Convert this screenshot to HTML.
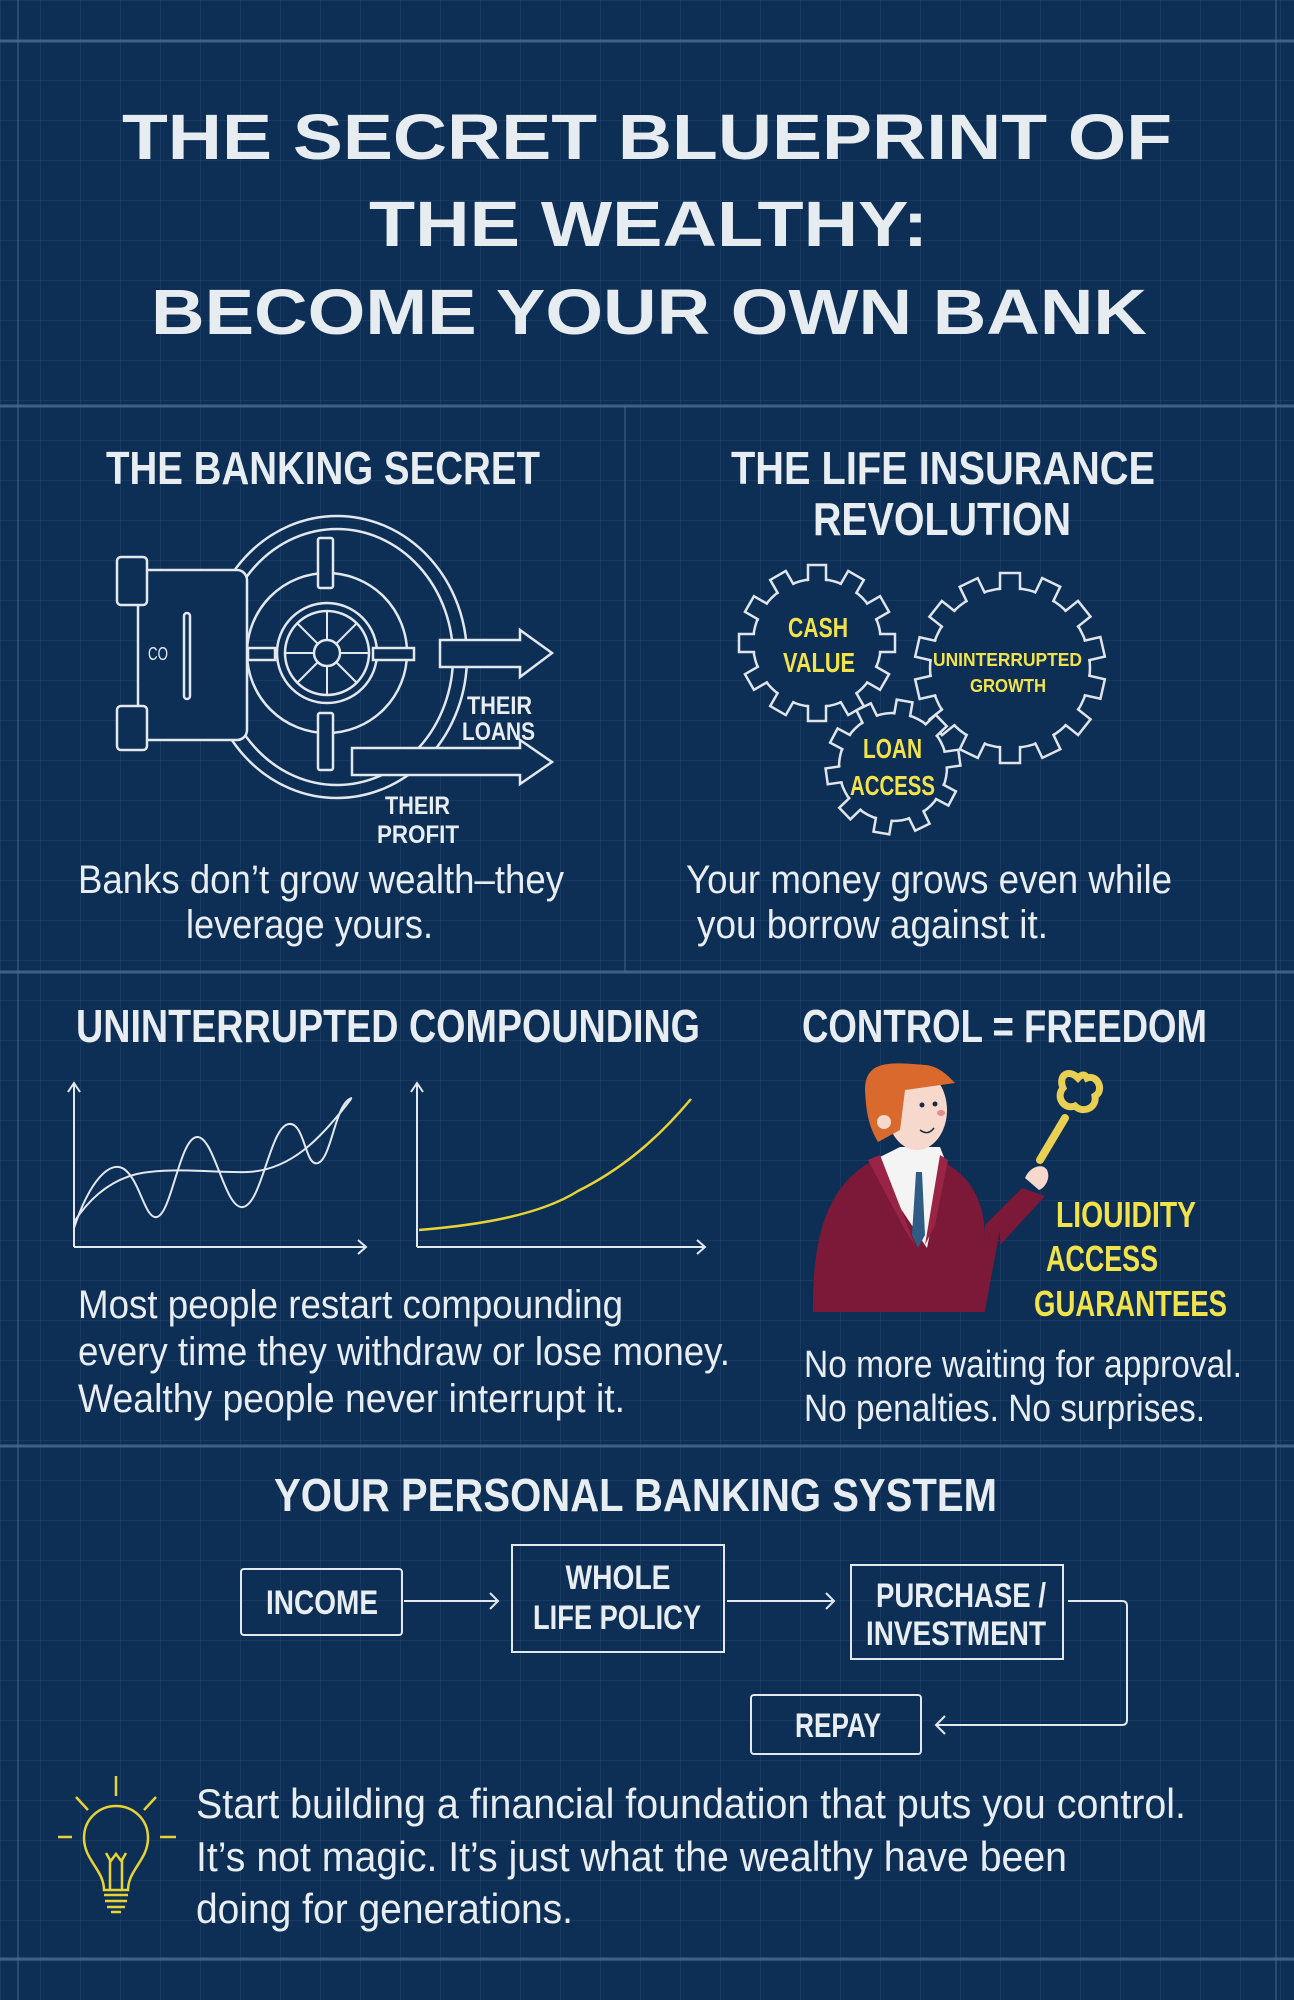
<!DOCTYPE html>
<html><head><meta charset="utf-8"><style>
html,body{margin:0;padding:0;}
body{width:1294px;height:2000px;overflow:hidden;background:#0d2f56;
background-image:
linear-gradient(rgba(120,160,200,0.10) 1px, transparent 1px),
linear-gradient(90deg, rgba(120,160,200,0.10) 1px, transparent 1px);
background-size:40px 40px;}
svg{position:absolute;left:0;top:0;}
.t{font-family:"Liberation Sans",sans-serif;font-weight:bold;fill:#e6ecf0;}
.h{font-family:"Liberation Sans Narrow","Liberation Sans",sans-serif;font-weight:bold;fill:#e8edf1;}
.b{font-family:"Liberation Sans Narrow","Liberation Sans",sans-serif;fill:#e8edf1;}
.y{font-family:"Liberation Sans Narrow","Liberation Sans",sans-serif;font-weight:bold;fill:#f3e34a;}
</style></head><body>
<svg width="1294" height="2000" viewBox="0 0 1294 2000">
<g stroke="#4c6d92" stroke-width="3" opacity="0.8">
<line x1="0" y1="41" x2="1294" y2="41"/>
<line x1="0" y1="406" x2="1294" y2="406"/>
<line x1="0" y1="972" x2="1294" y2="972"/>
<line x1="0" y1="1446" x2="1294" y2="1446"/>
<line x1="0" y1="1959" x2="1294" y2="1959"/>
</g>
<g stroke="#4c6d92" stroke-width="2" opacity="0.45">
<line x1="625" y1="406" x2="625" y2="972"/>
<line x1="18" y1="0" x2="18" y2="2000"/>
<line x1="1276" y1="0" x2="1276" y2="2000"/>
</g>
<text class="t" x="122" y="159" font-size="64" textLength="1050" lengthAdjust="spacingAndGlyphs">THE SECRET BLUEPRINT OF</text>
<text class="t" x="369" y="246" font-size="64" textLength="559" lengthAdjust="spacingAndGlyphs">THE WEALTHY:</text>
<text class="t" x="151" y="334" font-size="64" textLength="996" lengthAdjust="spacingAndGlyphs">BECOME YOUR OWN BANK</text>

<text class="h" x="106" y="484" font-size="46" textLength="434" lengthAdjust="spacingAndGlyphs">THE BANKING SECRET</text>
<text class="h" x="731" y="484" font-size="46" textLength="424" lengthAdjust="spacingAndGlyphs">THE LIFE INSURANCE</text>
<text class="h" x="813" y="535" font-size="46" textLength="258" lengthAdjust="spacingAndGlyphs">REVOLUTION</text>

<g stroke="#e2e8ee" stroke-width="2.5" fill="none">
<ellipse cx="337" cy="657" rx="130" ry="141"/>
<ellipse cx="337" cy="657" rx="116" ry="128"/>
<circle cx="327" cy="653" r="80"/>
<circle cx="327" cy="653" r="50" fill="#0d2f56"/>
<circle cx="327" cy="653" r="42"/>
<circle cx="327" cy="653" r="13"/>
<g stroke-width="2">
<line x1="340" y1="653" x2="369" y2="653"/><line x1="285" y1="653" x2="314" y2="653"/>
<line x1="327" y1="640" x2="327" y2="611"/><line x1="327" y1="666" x2="327" y2="695"/>
<line x1="336" y1="644" x2="357" y2="623"/><line x1="318" y1="662" x2="297" y2="683"/>
<line x1="318" y1="644" x2="297" y2="623"/><line x1="336" y1="662" x2="357" y2="683"/>
</g>
<rect x="138" y="570" width="109" height="170" rx="10" fill="#0d2f56"/>
<rect x="117" y="557" width="30" height="48" rx="4" fill="#0d2f56"/>
<rect x="117" y="706" width="30" height="44" rx="4" fill="#0d2f56"/>
<rect x="184" y="613" width="6" height="86" rx="3"/>
<rect x="318" y="538" width="15" height="50" rx="2" fill="#0d2f56"/>
<rect x="318" y="713" width="15" height="57" rx="2" fill="#0d2f56"/>
<rect x="373" y="648" width="41" height="12" fill="#0d2f56"/>
<rect x="248" y="648" width="27" height="12"/>
<path d="M440 640 H520 V630 L552 653 L520 677 V667 H440 Z" fill="#0d2f56"/>
<path d="M352 748 H520 V740 L552 762 L520 784 V775 H352 Z" fill="#0d2f56"/>
</g>
<text class="b" x="148" y="660" font-size="18" textLength="20" lengthAdjust="spacingAndGlyphs">CO</text>
<text class="h" x="467" y="714" font-size="25" textLength="65" lengthAdjust="spacingAndGlyphs">THEIR</text>
<text class="h" x="462" y="740" font-size="25" textLength="73" lengthAdjust="spacingAndGlyphs">LOANS</text>
<text class="h" x="385" y="814" font-size="25" textLength="65" lengthAdjust="spacingAndGlyphs">THEIR</text>
<text class="h" x="377" y="843" font-size="25" textLength="82" lengthAdjust="spacingAndGlyphs">PROFIT</text>

<g stroke="#dfe5ea" stroke-width="2.5" fill="#0d2f56">
 <g transform="translate(1010,668)">
  <circle r="80" fill="none"/>
  <g><rect x="-10" y="-95" width="20" height="22" transform="rotate(0)"/><rect x="-10" y="-95" width="20" height="22" transform="rotate(25.7)"/><rect x="-10" y="-95" width="20" height="22" transform="rotate(51.4)"/><rect x="-10" y="-95" width="20" height="22" transform="rotate(77.1)"/><rect x="-10" y="-95" width="20" height="22" transform="rotate(102.8)"/><rect x="-10" y="-95" width="20" height="22" transform="rotate(128.5)"/><rect x="-10" y="-95" width="20" height="22" transform="rotate(154.2)"/><rect x="-10" y="-95" width="20" height="22" transform="rotate(180)"/><rect x="-10" y="-95" width="20" height="22" transform="rotate(205.7)"/><rect x="-10" y="-95" width="20" height="22" transform="rotate(231.4)"/><rect x="-10" y="-95" width="20" height="22" transform="rotate(257.1)"/><rect x="-10" y="-95" width="20" height="22" transform="rotate(282.8)"/><rect x="-10" y="-95" width="20" height="22" transform="rotate(308.5)"/><rect x="-10" y="-95" width="20" height="22" transform="rotate(334.2)"/></g>
  <circle r="78.5" stroke="none"/>
 </g>
 <g transform="translate(817,643)">
  <circle r="64" fill="none"/>
  <g><rect x="-9" y="-78" width="18" height="20" transform="rotate(0)"/><rect x="-9" y="-78" width="18" height="20" transform="rotate(30)"/><rect x="-9" y="-78" width="18" height="20" transform="rotate(60)"/><rect x="-9" y="-78" width="18" height="20" transform="rotate(90)"/><rect x="-9" y="-78" width="18" height="20" transform="rotate(120)"/><rect x="-9" y="-78" width="18" height="20" transform="rotate(150)"/><rect x="-9" y="-78" width="18" height="20" transform="rotate(180)"/><rect x="-9" y="-78" width="18" height="20" transform="rotate(210)"/><rect x="-9" y="-78" width="18" height="20" transform="rotate(240)"/><rect x="-9" y="-78" width="18" height="20" transform="rotate(270)"/><rect x="-9" y="-78" width="18" height="20" transform="rotate(300)"/><rect x="-9" y="-78" width="18" height="20" transform="rotate(330)"/></g>
  <circle r="62.5" stroke="none"/>
 </g>
 <g transform="translate(893,767)">
  <circle r="54" fill="none"/>
  <g><rect x="-8" y="-67" width="16" height="19" transform="rotate(10)"/><rect x="-8" y="-67" width="16" height="19" transform="rotate(46)"/><rect x="-8" y="-67" width="16" height="19" transform="rotate(82)"/><rect x="-8" y="-67" width="16" height="19" transform="rotate(118)"/><rect x="-8" y="-67" width="16" height="19" transform="rotate(154)"/><rect x="-8" y="-67" width="16" height="19" transform="rotate(190)"/><rect x="-8" y="-67" width="16" height="19" transform="rotate(226)"/><rect x="-8" y="-67" width="16" height="19" transform="rotate(262)"/><rect x="-8" y="-67" width="16" height="19" transform="rotate(298)"/><rect x="-8" y="-67" width="16" height="19" transform="rotate(334)"/></g>
  <circle r="52.5" stroke="none"/>
 </g>
</g>
<text class="y" x="788" y="637" font-size="28" textLength="60" lengthAdjust="spacingAndGlyphs">CASH</text>
<text class="y" x="783" y="672" font-size="28" textLength="72" lengthAdjust="spacingAndGlyphs">VALUE</text>
<text class="y" x="933" y="666" font-size="18" textLength="149" lengthAdjust="spacingAndGlyphs">UNINTERRUPTED</text>
<text class="y" x="970" y="692" font-size="18" textLength="76" lengthAdjust="spacingAndGlyphs">GROWTH</text>
<text class="y" x="863" y="758" font-size="28" textLength="59" lengthAdjust="spacingAndGlyphs">LOAN</text>
<text class="y" x="850" y="795" font-size="28" textLength="85" lengthAdjust="spacingAndGlyphs">ACCESS</text>

<text class="b" x="78" y="893" font-size="40" textLength="486" lengthAdjust="spacingAndGlyphs">Banks don’t grow wealth–they</text>
<text class="b" x="186" y="938" font-size="40" textLength="247" lengthAdjust="spacingAndGlyphs">leverage yours.</text>
<text class="b" x="686" y="893" font-size="40" textLength="486" lengthAdjust="spacingAndGlyphs">Your money grows even while</text>
<text class="b" x="697" y="938" font-size="40" textLength="351" lengthAdjust="spacingAndGlyphs">you borrow against it.</text>

<text class="h" x="76" y="1042" font-size="46" textLength="624" lengthAdjust="spacingAndGlyphs">UNINTERRUPTED COMPOUNDING</text>
<text class="h" x="802" y="1042" font-size="46" textLength="405" lengthAdjust="spacingAndGlyphs">CONTROL = FREEDOM</text>

<g stroke="#e2e8ee" stroke-width="2" fill="none">
<path d="M74 1247 V1083 M68 1092 L74 1083 L80 1092"/>
<path d="M74 1247 H366 M358 1240 L366 1247 L358 1254"/>
<path d="M417 1247 V1083 M411 1092 L417 1083 L423 1092"/>
<path d="M417 1247 H705 M697 1240 L705 1247 L697 1254"/>
<path d="M74 1228 C90 1180 110 1160 124 1169 C140 1180 145 1220 157 1217 C172 1213 180 1135 198 1137 C215 1139 225 1210 243 1207 C262 1204 270 1126 289 1124 C305 1122 305 1168 318 1163 C332 1158 335 1102 352 1098"/>
<path d="M74 1222 C95 1190 120 1175 149 1172 C185 1168 215 1173 248 1172 C290 1170 320 1140 351 1099"/>
</g>
<path d="M419 1230 C480 1225 540 1215 578 1191 C630 1165 665 1130 691 1099" stroke="#e8d335" stroke-width="2.5" fill="none"/>

<text class="b" x="78" y="1318" font-size="40" textLength="545" lengthAdjust="spacingAndGlyphs">Most people restart compounding</text>
<text class="b" x="78" y="1365" font-size="40" textLength="652" lengthAdjust="spacingAndGlyphs">every time they withdraw or lose money.</text>
<text class="b" x="78" y="1412" font-size="40" textLength="547" lengthAdjust="spacingAndGlyphs">Wealthy people never interrupt it.</text>

<path d="M985 1310 L985 1225 L1022 1188 L1045 1196 L1000 1245 L1000 1230 Z" fill="#7c1838"/>
<path d="M813 1312 C812 1230 830 1180 880 1157 L940 1160 C970 1175 985 1200 985 1240 L985 1312 Z" fill="#7c1838"/>
<path d="M880 1157 L900 1147 L940 1147 L945 1160 L927 1248 L895 1200 Z" fill="#f4f4f4"/>
<path d="M916 1172 L922 1172 L925 1235 L918 1248 L912 1235 Z" fill="#2f5c84"/>
<path d="M868 1160 L880 1155 L915 1245 L905 1230 Z" fill="#9a2446"/>
<path d="M948 1160 L940 1155 L925 1245 L935 1225 Z" fill="#9a2446"/>
<ellipse cx="917" cy="1110" rx="30" ry="40" fill="#f6d9cc"/>
<path d="M865 1090 C865 1060 890 1062 925 1065 C940 1066 950 1078 955 1083 L905 1090 L900 1130 L878 1142 C868 1125 866 1110 865 1090 Z" fill="#d9692c"/>
<circle cx="884" cy="1122" r="7" fill="#f6d9cc"/>
<circle cx="922" cy="1105" r="2.5" fill="#1a2a40"/><circle cx="935" cy="1104" r="2.5" fill="#1a2a40"/>
<path d="M920 1130 q8 6 14 -2" stroke="#1a2a40" stroke-width="1.5" fill="none"/>
<ellipse cx="941" cy="1113" rx="4" ry="3" fill="#e58a90"/>
<path d="M1040 1160 L1065 1118" stroke="#e9cf52" stroke-width="8" stroke-linecap="round"/>
<path d="M1078 1078 c-10 -10 -20 -2 -15 10 c-8 10 2 22 12 18 c8 8 22 2 20 -10 c10 -6 2 -22 -8 -18 c-2 -4 -5 -4 -9 0 z" stroke="#e9cf52" stroke-width="7" fill="none"/>
<path d="M1025 1178 c5 -12 18 -15 22 -8 c4 8 -2 18 -8 20 Z" fill="#f6d9cc"/>

<text class="y" x="1056" y="1227" font-size="36" textLength="140" lengthAdjust="spacingAndGlyphs">LIOUIDITY</text>
<text class="y" x="1046" y="1271" font-size="36" textLength="112" lengthAdjust="spacingAndGlyphs">ACCESS</text>
<text class="y" x="1034" y="1316" font-size="36" textLength="193" lengthAdjust="spacingAndGlyphs">GUARANTEES</text>
<text class="b" x="804" y="1377" font-size="38" textLength="438" lengthAdjust="spacingAndGlyphs">No more waiting for approval.</text>
<text class="b" x="804" y="1421" font-size="38" textLength="401" lengthAdjust="spacingAndGlyphs">No penalties. No surprises.</text>

<text class="h" x="274" y="1511" font-size="46" textLength="723" lengthAdjust="spacingAndGlyphs">YOUR PERSONAL BANKING SYSTEM</text>
<g stroke="#e2e8ee" stroke-width="2" fill="none">
<rect x="241" y="1569" width="161" height="66" rx="3"/>
<rect x="512" y="1545" width="212" height="107"/>
<rect x="851" y="1565" width="212" height="94"/>
<rect x="751" y="1695" width="170" height="59" rx="3"/>
<path d="M404 1601 H498 M490 1593 L498 1601 L490 1609"/>
<path d="M727 1601 H834 M826 1593 L834 1601 L826 1609"/>
<path d="M1068 1601 H1122 Q1127 1601 1127 1606 V1720 Q1127 1725 1122 1725 H936 M945 1716 L936 1725 L945 1734"/>
</g>
<g text-anchor="middle">
<text class="h" x="322" y="1614" font-size="34" textLength="112" lengthAdjust="spacingAndGlyphs">INCOME</text>
<text class="h" x="618" y="1589" font-size="34" textLength="105" lengthAdjust="spacingAndGlyphs">WHOLE</text>
<text class="h" x="617" y="1629" font-size="34" textLength="168" lengthAdjust="spacingAndGlyphs">LIFE POLICY</text>
<text class="h" x="961" y="1607" font-size="34" textLength="170" lengthAdjust="spacingAndGlyphs">PURCHASE /</text>
<text class="h" x="956" y="1645" font-size="34" textLength="180" lengthAdjust="spacingAndGlyphs">INVESTMENT</text>
<text class="h" x="838" y="1737" font-size="34" textLength="86" lengthAdjust="spacingAndGlyphs">REPAY</text>
</g>

<g stroke="#e8d335" stroke-width="2.5" fill="none">
<line x1="116" y1="1776" x2="116" y2="1796"/>
<line x1="76" y1="1797" x2="88" y2="1810"/><line x1="156" y1="1797" x2="144" y2="1810"/>
<line x1="58" y1="1837" x2="72" y2="1837"/><line x1="160" y1="1837" x2="176" y2="1837"/>
<path d="M104 1890 C104 1870 84 1860 84 1838 C84 1818 100 1806 116 1806 C132 1806 148 1818 148 1838 C148 1860 128 1870 128 1890 Z"/>
<path d="M110 1890 V1860 L106 1853 M122 1890 V1860 L126 1853 M110 1862 L116 1854 L122 1862"/>
<path d="M104 1895 H128 M105 1901 H127 M107 1907 H125 M111 1912 H121"/>
</g>
<text class="b" x="196" y="1818" font-size="42" textLength="990" lengthAdjust="spacingAndGlyphs">Start building a financial foundation that puts you control.</text>
<text class="b" x="196" y="1871" font-size="42" textLength="871" lengthAdjust="spacingAndGlyphs">It’s not magic. It’s just what the wealthy have been</text>
<text class="b" x="196" y="1923" font-size="42" textLength="377" lengthAdjust="spacingAndGlyphs">doing for generations.</text>
</svg>
</body></html>
